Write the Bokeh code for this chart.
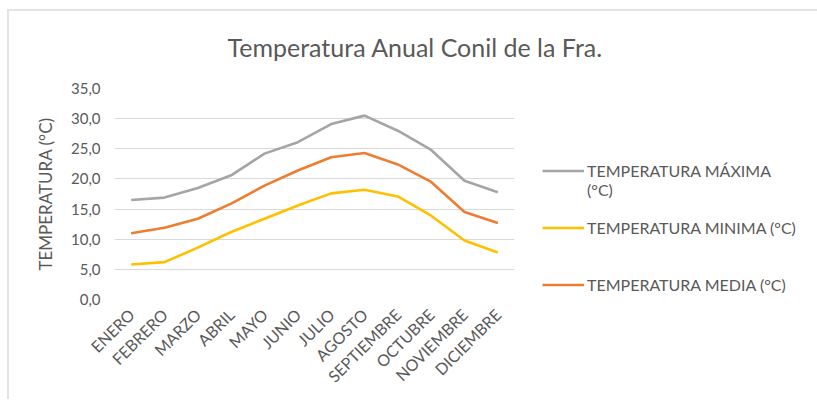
import math
from bokeh.plotting import figure
from bokeh.models import (Legend, LegendItem, Title, CustomJSTickFormatter,
                          FixedTicker, Range1d)
from bokeh.embed import file_html
from bokeh.resources import INLINE

months = ["ENERO", "FEBRERO", "MARZO", "ABRIL", "MAYO", "JUNIO", "JULIO",
          "AGOSTO", "SEPTIEMBRE", "OCTUBRE", "NOVIEMBRE", "DICIEMBRE"]
t_max = [16.5, 16.9, 18.5, 20.6, 24.2, 26.1, 29.1, 30.5, 28.0, 24.8, 19.7, 17.8]
t_min = [5.8, 6.2, 8.6, 11.2, 13.4, 15.6, 17.6, 18.2, 17.1, 13.9, 9.8, 7.8]
t_med = [11.0, 11.9, 13.4, 15.9, 18.9, 21.4, 23.6, 24.3, 22.4, 19.5, 14.5, 12.7]
y_ticks = [0, 5, 10, 15, 20, 25, 30, 35]

title_text = "Temperatura Anual Conil de la Fra."
y_label = "TEMPERATURA (°C)"
lab_max = "TEMPERATURA MÁXIMA"
lab_max2 = "(°C)"
lab_min = "TEMPERATURA MINIMA (°C)"
lab_med = "TEMPERATURA MEDIA (°C)"

C_MAX = "#A5A5A5"
C_MIN = "#FFC000"
C_MED = "#ED7D31"
TXT = "#595959"
FONT = "Lato"

p = figure(x_range=months, frame_width=400, frame_height=211, output_backend="svg",
           toolbar_location=None, min_border_left=105, min_border_right=300,
           min_border_top=77, min_border_bottom=100)
p.styles = {"margin-left": "7px", "margin-top": "9px",
            "border-top": "2px solid #e4e4e4", "border-left": "2px solid #e4e4e4"}
p.y_range = Range1d(0, 35)
p.outline_line_color = None
p.background_fill_color = "white"
p.border_fill_color = "white"

r_max = p.line(months, t_max, line_color=C_MAX, line_width=2.6)
r_min = p.line(months, t_min, line_color=C_MIN, line_width=2.6)
r_med = p.line(months, t_med, line_color=C_MED, line_width=2.6)
r_blank = p.line(months, t_max, line_alpha=0)

p.xgrid.grid_line_color = None
p.ygrid.grid_line_color = "#d9d9d9"
p.ygrid.grid_line_width = 1

p.yaxis.ticker = FixedTicker(ticks=y_ticks)
p.yaxis.formatter = CustomJSTickFormatter(code="return tick.toFixed(1).replace('.', ',');")
for ax in (p.xaxis, p.yaxis):
    ax.axis_line_color = None
    ax.major_tick_line_color = None
    ax.minor_tick_line_color = None
    ax.major_tick_out = 0
    ax.major_tick_in = 0
    ax.major_label_text_color = TXT
    ax.major_label_text_font = FONT

p.yaxis.major_label_text_font_size = "15px"
p.yaxis.major_label_standoff = 14
p.yaxis.axis_label = y_label
p.yaxis.axis_label_text_font = FONT
p.yaxis.axis_label_text_font_style = "normal"
p.yaxis.axis_label_text_font_size = "17px"
p.yaxis.axis_label_text_color = TXT
p.yaxis.axis_label_standoff = 12

p.xaxis.major_label_text_font_size = "16px"
p.xaxis.major_label_orientation = math.pi / 4
p.xaxis.major_label_standoff = 12

# spacer, then the real title (stacked outward from the frame)
p.add_layout(Title(text=" ", text_font_size="8px", text_font=FONT), "above")
p.add_layout(Title(text=title_text, align="left", offset=113, text_font=FONT,
                   text_font_size="25px", text_font_style="normal",
                   text_color=TXT), "above")

items = [
    LegendItem(label=lab_max, renderers=[r_max]),
    LegendItem(label=lab_max2, renderers=[r_blank]),
    LegendItem(label=" ", renderers=[r_blank]),
    LegendItem(label=lab_min, renderers=[r_min]),
    LegendItem(label=" ", renderers=[r_blank]),
    LegendItem(label=" ", renderers=[r_blank]),
    LegendItem(label=lab_med, renderers=[r_med]),
]
legend = Legend(items=items, location=(28, 5), padding=0, margin=0, spacing=0,
                border_line_color=None, background_fill_alpha=0,
                glyph_width=42, glyph_height=19, label_height=19, label_standoff=3,
                label_text_font=FONT, label_text_font_size="16px",
                label_text_color=TXT)
p.add_layout(legend, "right")

open("out.html", "w").write(file_html(p, INLINE))
